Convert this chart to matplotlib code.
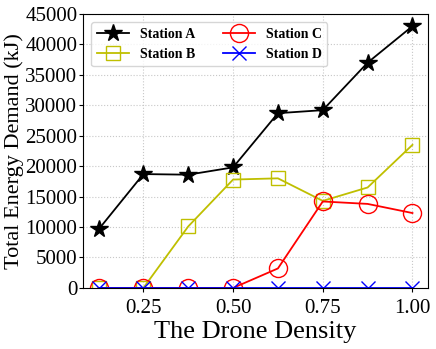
import matplotlib
matplotlib.use("Agg")
import matplotlib.pyplot as plt

x = [0.125, 0.25, 0.375, 0.5, 0.625, 0.75, 0.875, 1.0]
station_a = [9600, 18700, 18600, 19800, 28700, 29200, 37000, 43000]
station_b = [0, 0, 10100, 17800, 18000, 14300, 16500, 23500]
station_c = [0, 0, 0, 0, 3200, 14200, 13800, 12300]
station_d = [0, 0, 0, 0, 0, 0, 0, 0]
xticks = [0.25, 0.50, 0.75, 1.00]
yticks = [0, 5000, 10000, 15000, 20000, 25000, 30000, 35000, 40000, 45000]

plt.rcParams['font.family'] = ['Liberation Serif', 'DejaVu Serif']

fig = plt.figure(figsize=(4.36, 3.49), dpi=100)
ax = fig.add_axes([0.19, 0.175, 0.792, 0.785])

ax.plot(x, station_a, color='black', marker='*', markersize=13, linewidth=1.3, label='Station A')
ax.plot(x, station_b, color='#bfbf00', marker='s', markersize=10.5, markerfacecolor='none', linewidth=1.3, label='Station B')
ax.plot(x, station_c, color='red', marker='o', markersize=13, markerfacecolor='none', linewidth=1.3, label='Station C')
ax.plot(x, station_d, color='blue', marker='x', markersize=10.5, linewidth=1.3, label='Station D')

ax.set_ylim(0, 45000)
ax.set_xticks(xticks)
ax.set_xticklabels(['%.2f' % v for v in xticks])
ax.set_yticks(yticks)
ax.tick_params(labelsize=15, length=3, pad=1)
ax.tick_params(axis='x', pad=5)
ax.grid(True, linestyle=':', color='#c8c8c8', linewidth=0.8)
ax.set_xlabel('The Drone Density', fontsize=19, labelpad=2)
ax.set_ylabel('Total Energy Demand (kJ)', fontsize=16, labelpad=1)
ax.legend(loc='upper left', ncol=2, prop={'weight': 'bold', 'size': 10},
          handlelength=2.3, columnspacing=2.0, borderaxespad=0.6)

fig.savefig('out.png', dpi=100)
